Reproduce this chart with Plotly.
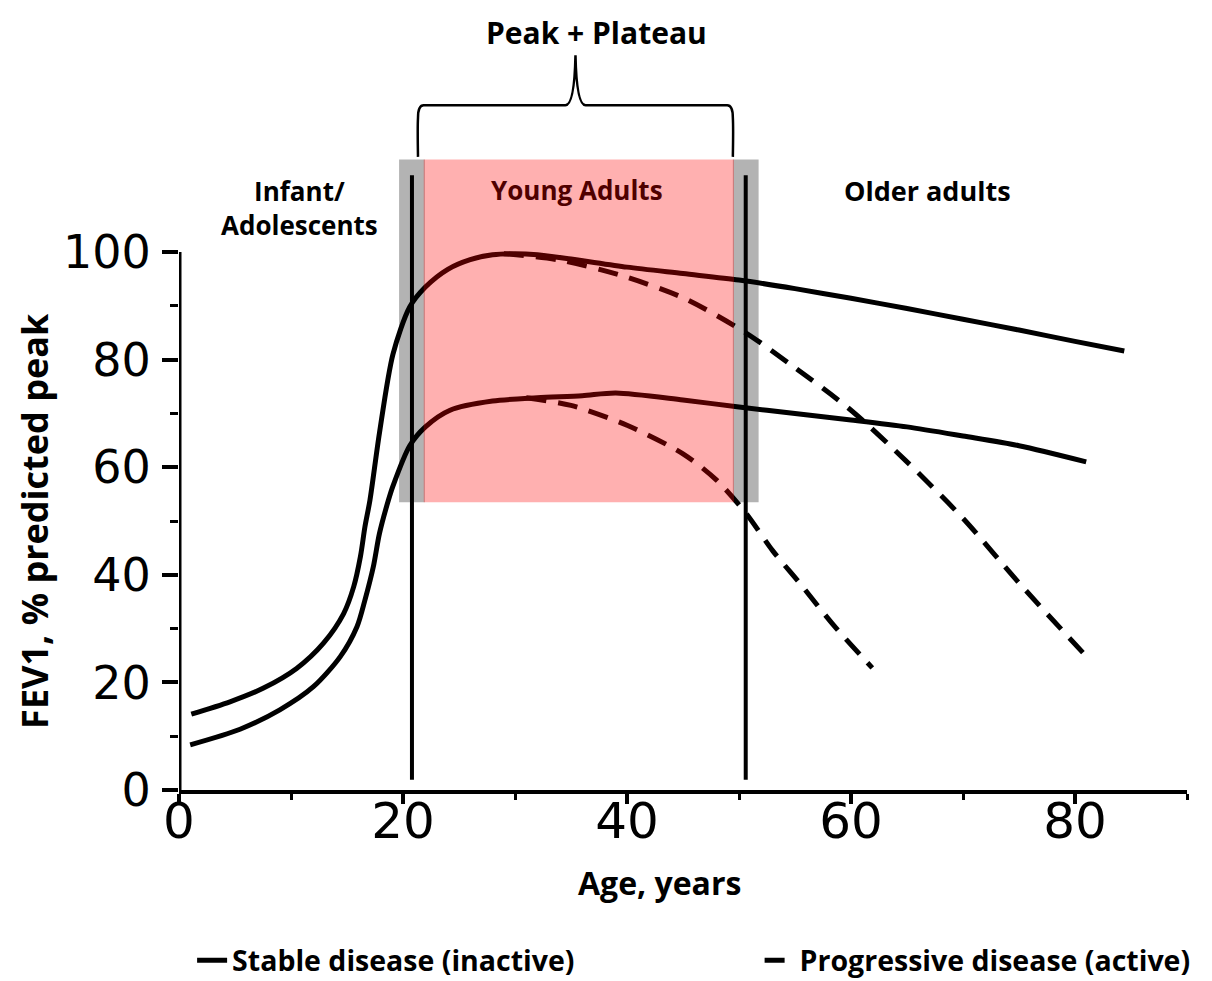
import plotly.graph_objects as go

# ---------------- data ----------------
stable_upper_x = [1.1, 4.55, 7.5, 10.5, 12.9, 14.7, 15.6, 16.2, 16.6, 17.05, 17.9, 19.1, 20.6, 22, 24, 26, 28, 30, 32, 35, 40, 45, 50, 55, 60, 65, 70, 75, 80, 84.4]
stable_upper_y = [14.1, 16.4, 18.9, 22.6, 27.3, 32.8, 37.8, 43.4, 48.9, 53.9, 66.4, 81, 89.8, 93.5, 96.8, 98.6, 99.5, 99.7, 99.5, 98.7, 97.2, 96, 94.8, 93.2, 91.4, 89.5, 87.5, 85.5, 83.4, 81.6]

stable_lower_x = [1, 5.45, 9.0, 12.0, 14.4, 15.9, 16.6, 17.35, 17.9, 18.7, 19.1, 20.6, 22, 24.2, 28, 32, 36, 39, 45, 50, 55, 60, 65, 70, 75, 81]
stable_lower_y = [8.4, 11.3, 14.9, 19.2, 24.8, 30.4, 35.3, 41.5, 47.7, 53.9, 56.5, 64.0, 67.5, 70.6, 72.3, 72.9, 73.3, 73.8, 72.5, 71.2, 70, 68.8, 67.5, 65.8, 64, 61]

prog_upper_x = [29, 34, 39.4, 45, 50.6, 55, 60, 65, 70, 75, 81.3]
prog_upper_y = [99.7, 98.5, 95.7, 91.5, 85, 78.5, 70.6, 61, 50.5, 38.5, 24.2]

prog_lower_x = [31, 35, 40, 45, 48, 50.6, 53, 55.4, 58.5, 61.9]
prog_lower_y = [72.9, 71.5, 67.8, 62.5, 57.6, 51.5, 44.5, 38.5, 30.5, 22.7]

x_ticks = [0, 20, 40, 60, 80]
x_minor = [10, 30, 50, 70, 90]
y_ticks = [0, 20, 40, 60, 80, 100]
y_minor = [10, 30, 50, 70, 90]

# phase boundaries (age, years) and band heights (% predicted)
phase_left = 20.8
phase_right = 50.6
gray_half = 1.15
band_bottom = 53.5
band_top = 117.2
divider_top = 114.3
divider_bottom = 1.9

brace_left = 21.34
brace_right = 49.45
brace_tip = 35.4
brace_foot = 117.7
brace_bar = 127.3
brace_peak = 136.6

FONT_LBL = "Open Sans"
LINE_W = 5
DASH = "20px,12px"
SMOOTH = 0.8

fig = go.Figure()

fig.add_trace(go.Scatter(x=stable_upper_x, y=stable_upper_y, mode="lines",
                         line=dict(color="black", width=LINE_W, shape="spline", smoothing=SMOOTH),
                         name="Stable disease (inactive)", legendgroup="s", legend="legend"))
fig.add_trace(go.Scatter(x=stable_lower_x, y=stable_lower_y, mode="lines",
                         line=dict(color="black", width=LINE_W, shape="spline", smoothing=SMOOTH),
                         name="Stable disease (inactive)", legendgroup="s", showlegend=False))
fig.add_trace(go.Scatter(x=prog_upper_x, y=prog_upper_y, mode="lines",
                         line=dict(color="black", width=LINE_W, dash=DASH, shape="spline", smoothing=SMOOTH),
                         name="Progressive disease (active)", legendgroup="p", legend="legend2"))
fig.add_trace(go.Scatter(x=prog_lower_x, y=prog_lower_y, mode="lines",
                         line=dict(color="black", width=LINE_W, dash=DASH, shape="spline", smoothing=SMOOTH),
                         name="Progressive disease (active)", legendgroup="p", showlegend=False))

shapes = []
# gray transition bands (below the curves)
for c in (phase_left, phase_right):
    shapes.append(dict(type="rect", xref="x", yref="y", x0=c - gray_half, x1=c + gray_half,
                       y0=band_bottom, y1=band_top, fillcolor="#b3b3b3", line=dict(width=0),
                       layer="below"))
# pink young-adult band (above the curves, translucent)
shapes.append(dict(type="rect", xref="x", yref="y", x0=phase_left + gray_half - 0.1,
                   x1=phase_right - gray_half + 0.1, y0=band_bottom, y1=band_top,
                   fillcolor="rgba(255,0,0,0.31)", line=dict(width=0), layer="above"))
# vertical dividers
for c in (phase_left, phase_right):
    shapes.append(dict(type="line", xref="x", yref="y", x0=c, x1=c, y0=divider_bottom, y1=divider_top,
                       line=dict(color="black", width=4), layer="above"))
# y axis line (only up to 100)
shapes.append(dict(type="line", xref="x", yref="y", x0=0, x1=0, y0=0, y1=100,
                   line=dict(color="black", width=5), layer="above"))
# curly brace
dx, dy = 0.5, 2.3
path = (f"M {brace_left},{brace_foot} "
        f"Q {brace_left - 0.05},{brace_bar - 4} {brace_left},{brace_bar - dy} "
        f"Q {brace_left},{brace_bar} {brace_left + dx},{brace_bar} "
        f"L {brace_tip - 0.9},{brace_bar} "
        f"Q {brace_tip - 0.1},{brace_bar} {brace_tip},{brace_peak} "
        f"Q {brace_tip + 0.1},{brace_bar} {brace_tip + 0.9},{brace_bar} "
        f"L {brace_right - dx},{brace_bar} "
        f"Q {brace_right},{brace_bar} {brace_right},{brace_bar - dy} "
        f"Q {brace_right + 0.05},{brace_bar - 4} {brace_right},{brace_foot}")
shapes.append(dict(type="path", xref="x", yref="y", path=path,
                   line=dict(color="black", width=2.5), layer="above"))

def bold(size, color="black"):
    return dict(family=FONT_LBL, size=size, color=color, weight="bold")

annotations = [
    dict(x=37.3, y=140.9, text="Peak + Plateau", showarrow=False, font=bold(30)),
    dict(x=10.8, y=108.2, text="Infant/<br>Adolescents", showarrow=False, font=bold(26)),
    dict(x=35.5, y=111.5, text="Young Adults", showarrow=False, font=bold(26, "#4f0000")),
    dict(x=66.8, y=111.5, text="Older adults", showarrow=False, font=bold(27)),
    dict(xref="paper", yref="paper", x=0.477, y=-0.119, xanchor="center", yanchor="middle",
         text="Age, years", showarrow=False, font=bold(32)),
    dict(xref="paper", yref="y", x=-0.144, xanchor="center", yanchor="middle", y=50,
         text="FEV1, % predicted peak", showarrow=False, textangle=-90, font=bold(36)),
]

legend_common = dict(orientation="h", y=-0.219, xanchor="left", yanchor="middle",
                     font=bold(28.5), bgcolor="rgba(0,0,0,0)")

fig.update_layout(
    width=1212, height=981,
    margin=dict(l=171, r=33, t=2, b=199, autoexpand=False),
    paper_bgcolor="white", plot_bgcolor="white",
    shapes=shapes, annotations=annotations,
    showlegend=True,
    legend=dict(x=0.013, **legend_common),
    legend2=dict(x=0.576, **legend_common),
    xaxis=dict(range=[0, 90], showline=True, linecolor="black", linewidth=4,
               showgrid=False, zeroline=False, tickvals=x_ticks, ticks="outside",
               ticklen=10, tickwidth=4, tickcolor="black",
               minor=dict(tickvals=x_minor, ticks="outside", ticklen=6, tickwidth=3, tickcolor="black"),
               tickfont=dict(family="DejaVu Sans", size=50, color="black"), ticklabelstandoff=-26),
    yaxis=dict(range=[0, 145], showline=False, showgrid=False, zeroline=False,
               tickvals=y_ticks, ticks="outside", ticklen=16, tickwidth=4, tickcolor="black",
               minor=dict(tickvals=y_minor, ticks="outside", ticklen=8, tickwidth=3, tickcolor="black"),
               tickfont=dict(family="DejaVu Sans", size=46, color="black"), ticklabelstandoff=2),
)

fig.write_html("out.html")
